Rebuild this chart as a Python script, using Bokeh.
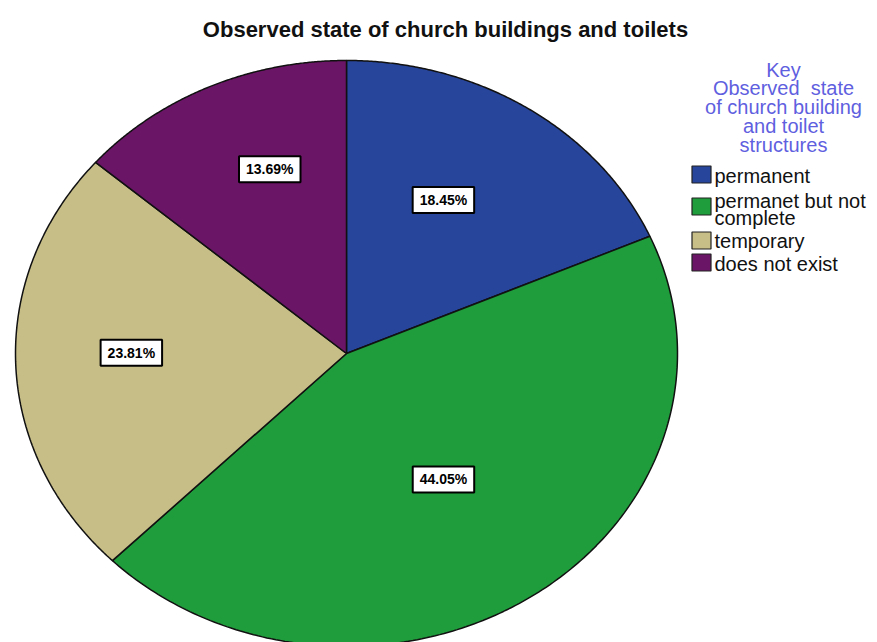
import numpy as np
from bokeh.plotting import figure
from bokeh.models import Range1d, Label
from bokeh.core.properties import value
from bokeh.embed import file_html
from bokeh.resources import INLINE

# ---- data ----
categories = ["permanent", "permanet but not complete", "temporary", "does not exist"]
legend_lines = [["permanent"], ["permanet but not", "complete"], ["temporary"], ["does not exist"]]
percents = [18.45, 44.05, 23.81, 13.69]
colors = ["#27459a", "#1f9c3b", "#c6bd87", "#6b1566"]
title_text = "Observed state of church buildings and toilets"
key_title = ["Key", "Observed\u00a0 state", "of church building", "and toilet", "structures"]

# ---- layout (pixel geometry) ----
W, H = 877, 642
cx, cy, rx, ry = 346, 353, 331, 293
label_r = [0.60, 0.52, 0.65, 0.67]          # radial position of labels
label_shift = [-4.0, 0.0, 2.4, 4.4]          # degrees offset from slice middle
FONT = "Liberation Sans"

def to_data(px, py):
    return (px - cx) / rx, (cy - py) / ry

p = figure(width=W, height=H, output_backend="svg", toolbar_location=None,
           x_range=Range1d(-cx / rx, (W - cx) / rx),
           y_range=Range1d((cy - H) / ry, cy / ry),
           min_border=0, outline_line_color=None)
p.axis.visible = False
p.grid.visible = False
p.background_fill_color = "white"
p.border_fill_color = "white"

# pie slices (clockwise from top)
fr = np.array(percents) / sum(percents)
cum = np.concatenate([[0], np.cumsum(fr)])
xs, ys = [], []
for i in range(len(percents)):
    t = np.linspace(cum[i] * 2 * np.pi, cum[i + 1] * 2 * np.pi, 200)
    xs.append(np.concatenate([[0], np.sin(t), [0]]))
    ys.append(np.concatenate([[0], np.cos(t), [0]]))
p.patches(xs, ys, fill_color=colors, line_color="#111111", line_width=1.5)

# percentage labels
for i, pc in enumerate(percents):
    mid = (cum[i] + cum[i + 1]) * np.pi + np.radians(label_shift[i])
    lab = Label(x=label_r[i] * np.sin(mid), y=label_r[i] * np.cos(mid),
                text=f"{pc:.2f}%", text_align="center", text_baseline="middle",
                text_font=FONT, text_font_style="bold", text_font_size="14px",
                text_color="black", background_fill_color="white",
                border_line_color="black", border_line_width=2,
                padding=dict(left=7, right=7, top=5, bottom=5))
    p.add_layout(lab)

# title
tx, ty = to_data(445, 29)
p.text([tx], [ty], text=[title_text], text_align="center", text_baseline="middle",
       text_font=value(FONT), text_font_style="bold", text_font_size="22px",
       text_color="#111111")

# key title
kx = [to_data(783, 0)[0]] * len(key_title)
ky = [to_data(0, 69 + 18.8 * k)[1] for k in range(len(key_title))]
p.text(kx, ky, text=key_title, text_align="center", text_baseline="middle",
       text_font=value(FONT), text_font_size="20px", text_color="#5f5fe0")

# legend swatches and texts
sw_y = [174, 206, 240, 262]
line_y = [[175], [200, 217], [240], [263]]
sx = [to_data(701, 0)[0]] * 4
sy = [to_data(0, v)[1] for v in sw_y]
p.rect(sx, sy, width=19 / rx, height=17 / ry, fill_color=colors,
       line_color="#222222", line_width=1.2)
lx, ly, lt = [], [], []
for lines, ypix in zip(legend_lines, line_y):
    for s, yy in zip(lines, ypix):
        lx.append(to_data(714, 0)[0])
        ly.append(to_data(0, yy)[1])
        lt.append(s)
p.text(lx, ly, text=lt, text_align="left", text_baseline="middle",
       text_font=value(FONT), text_font_size="20px", text_color="#111111")

open("out.html", "w").write(file_html(p, INLINE))
